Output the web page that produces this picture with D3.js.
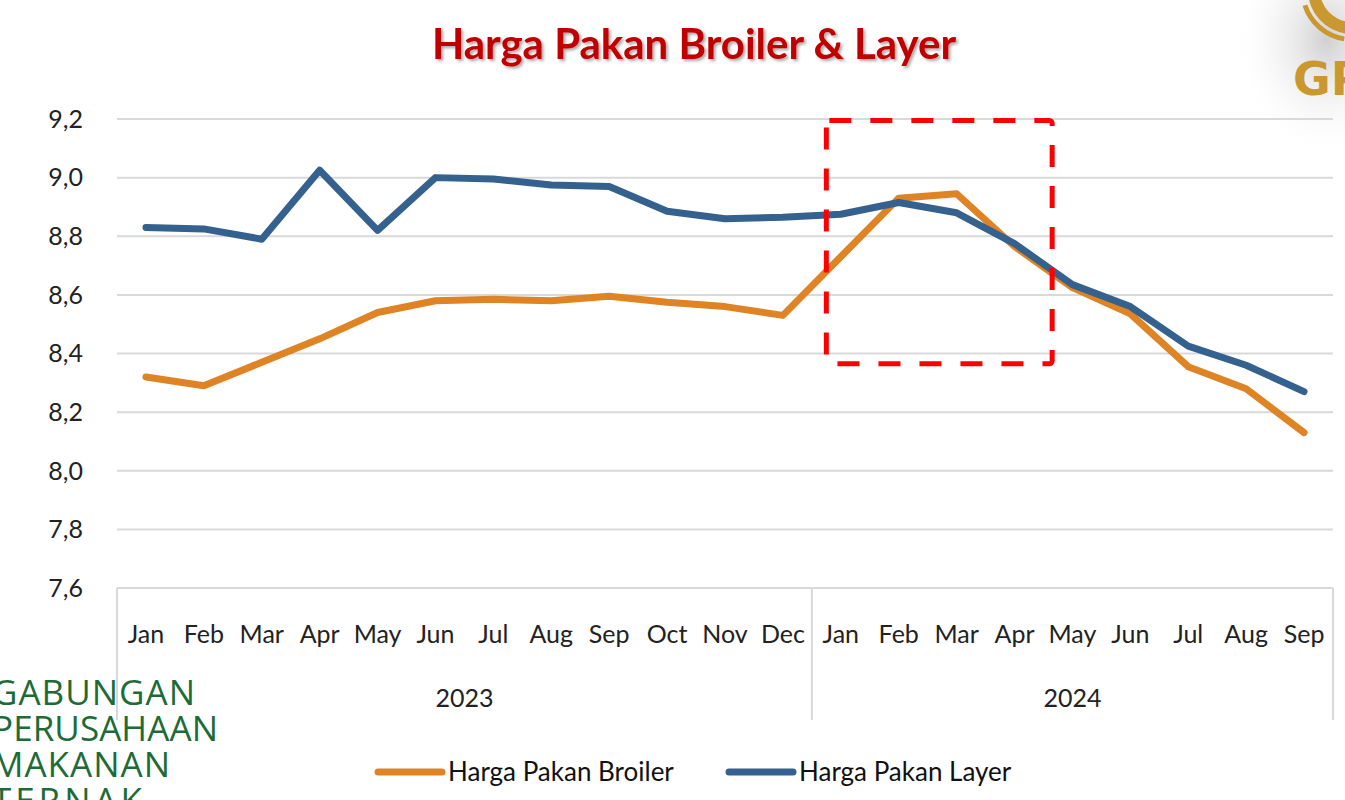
<!DOCTYPE html>
<html>
<head>
<meta charset="utf-8">
<script src="https://cdn.jsdelivr.net/npm/d3@7"></script>
<style>
  body { margin: 0; background: #fff; }
  svg { display: block; font-family: Lato, "Open Sans", sans-serif; }
</style>
</head>
<body>
<svg width="1345" height="800"></svg>
<script>
const months = ["Jan","Feb","Mar","Apr","May","Jun","Jul","Aug","Sep","Oct","Nov","Dec",
                "Jan","Feb","Mar","Apr","May","Jun","Jul","Aug","Sep"]
const years = [{ label: "2023", count: 12 }, { label: "2024", count: 9 }]

const broiler = [8.32, 8.29, 8.37, 8.45, 8.54, 8.58, 8.585, 8.58, 8.595, 8.575, 8.56, 8.53,
                 8.73, 8.93, 8.945, 8.765, 8.625, 8.535, 8.355, 8.28, 8.13]
const layer = [8.83, 8.825, 8.79, 9.025, 8.82, 9.0, 8.995, 8.975, 8.97, 8.885, 8.86, 8.865,
               8.875, 8.915, 8.88, 8.775, 8.635, 8.56, 8.425, 8.36, 8.27]

const yTicks = [7.6, 7.8, 8.0, 8.2, 8.4, 8.6, 8.8, 9.0, 9.2]

const series = [
  { name: "Harga Pakan Broiler", values: broiler, color: "#DF8424" },
  { name: "Harga Pakan Layer", values: layer, color: "#35618F" }
]

const svg = d3.select("svg")

const plotLeft = 117, plotRight = 1333, plotTop = 119, plotBottom = 588

const x = d3.scalePoint()
  .domain(d3.range(months.length))
  .range([plotLeft, plotRight])
  .padding(0.5)

const y = d3.scaleLinear()
  .domain([7.6, 9.2])
  .range([plotBottom, plotTop])

const step = x.step()

// corner logo shading (top right)
const defs = svg.append("defs")
const grad = defs.append("radialGradient")
  .attr("id", "shade").attr("cx", "85%").attr("cy", "25%").attr("r", "75%")
grad.append("stop").attr("offset", "0%").attr("stop-color", "#d0d0d0")
grad.append("stop").attr("offset", "100%").attr("stop-color", "#fff").attr("stop-opacity", 0)
svg.append("rect").attr("x", 1220).attr("y", 0).attr("width", 125).attr("height", 160)
  .attr("fill", "url(#shade)")

const shadow = defs.append("filter").attr("id", "tshadow")
  .attr("x", "-5%").attr("y", "-20%").attr("width", "110%").attr("height", "150%")
shadow.append("feDropShadow").attr("dx", 2).attr("dy", 2).attr("stdDeviation", 1.5)
  .attr("flood-color", "#000").attr("flood-opacity", 0.35)

// gold logo pieces
const logo = svg.append("g").attr("transform", "translate(1352,-10)")
logo.append("path")
  .attr("d", d3.arc()({ innerRadius: 32, outerRadius: 44, startAngle: -Math.PI * 0.97, endAngle: -Math.PI * 0.5 }))
  .attr("fill", "#C9982F")
logo.append("path")
  .attr("d", d3.arc()({ innerRadius: 47, outerRadius: 52, startAngle: -Math.PI * 0.95, endAngle: -Math.PI * 0.6 }))
  .attr("fill", "#C9982F")
svg.append("text")
  .attr("x", 1293).attr("y", 95)
  .attr("font-family", "'DejaVu Sans', sans-serif")
  .attr("font-weight", 700).attr("font-size", 46)
  .attr("fill", "#C9982F")
  .text("GP")

// title
svg.append("text")
  .attr("x", 694).attr("y", 59)
  .attr("text-anchor", "middle")
  .attr("font-size", 42).attr("font-weight", 700)
  .attr("fill", "#C00000")
  .attr("filter", "url(#tshadow)")
  .text("Harga Pakan Broiler & Layer")

// gridlines
svg.append("g")
  .selectAll("line")
  .data(yTicks)
  .join("line")
  .attr("x1", plotLeft).attr("x2", plotRight)
  .attr("y1", d => y(d)).attr("y2", d => y(d))
  .attr("stroke", "#d9d9d9").attr("stroke-width", 2)

// y labels
svg.append("g")
  .selectAll("text")
  .data(yTicks)
  .join("text")
  .attr("x", 83).attr("y", d => y(d))
  .attr("dy", "0.35em")
  .attr("text-anchor", "end")
  .attr("font-size", 25).attr("fill", "#222")
  .text(d => d3.format(".1f")(d).replace(".", ","))

// category dividers for years
let bounds = [0]
years.forEach(yr => bounds.push(bounds[bounds.length - 1] + yr.count))
svg.append("g")
  .selectAll("line")
  .data(bounds)
  .join("line")
  .attr("x1", d => x(0) - step / 2 + d * step)
  .attr("x2", d => x(0) - step / 2 + d * step)
  .attr("y1", plotBottom).attr("y2", 720)
  .attr("stroke", "#d9d9d9").attr("stroke-width", 2)

// month labels
svg.append("g")
  .selectAll("text")
  .data(months)
  .join("text")
  .attr("x", (d, i) => x(i)).attr("y", 634)
  .attr("dy", "0.35em")
  .attr("text-anchor", "middle")
  .attr("font-size", 25).attr("fill", "#222")
  .text(d => d)

// year labels
svg.append("g")
  .selectAll("text")
  .data(years)
  .join("text")
  .attr("x", (d, i) => x(0) - step / 2 + (bounds[i] + d.count / 2) * step)
  .attr("y", 698)
  .attr("dy", "0.35em")
  .attr("text-anchor", "middle")
  .attr("font-size", 25).attr("fill", "#222")
  .text(d => d.label)

// lines
const line = d3.line()
  .x((d, i) => x(i))
  .y(d => y(d))

svg.append("g")
  .selectAll("path")
  .data(series)
  .join("path")
  .attr("d", d => line(d.values))
  .attr("fill", "none")
  .attr("stroke", d => d.color)
  .attr("stroke-width", 7)
  .attr("stroke-linecap", "round")
  .attr("stroke-linejoin", "round")

// red dashed highlight box (Jan - Apr 2024)
const bx0 = x(12) - step * 0.25, bx1 = x(15) + step * 0.65
const by0 = y(9.195), by1 = y(8.365)
svg.append("rect")
  .attr("x", bx0).attr("y", by0)
  .attr("width", bx1 - bx0).attr("height", by1 - by0)
  .attr("rx", 3)
  .attr("fill", "none")
  .attr("stroke", "#FF0000")
  .attr("stroke-width", 5)
  .attr("stroke-dasharray", "22,19")

// legend
const legend = svg.append("g")
  .selectAll("g")
  .data(series)
  .join("g")
  .attr("transform", (d, i) => `translate(${[378, 729][i]},772)`)
legend.append("line")
  .attr("x1", 0).attr("x2", 64)
  .attr("stroke", d => d.color)
  .attr("stroke-width", 7)
  .attr("stroke-linecap", "round")
legend.append("text")
  .attr("x", 70).attr("dy", "0.35em")
  .attr("font-size", 26).attr("fill", "#111")
  .text(d => d.name)

// association logo text (bottom left, partly cut off)
const assoc = ["GABUNGAN", "PERUSAHAAN", "MAKANAN", "TERNAK"]
svg.append("g")
  .selectAll("text")
  .data(assoc)
  .join("text")
  .attr("x", -8)
  .attr("y", (d, i) => 705 + i * 36)
  .attr("font-family", "'Open Sans', sans-serif")
  .attr("font-size", 35)
  .attr("textLength", (d, i) => [203, 226, 178, 150][i])
  .attr("fill", "#1D6B37")
  .text(d => d)
</script>
</body>
</html>
